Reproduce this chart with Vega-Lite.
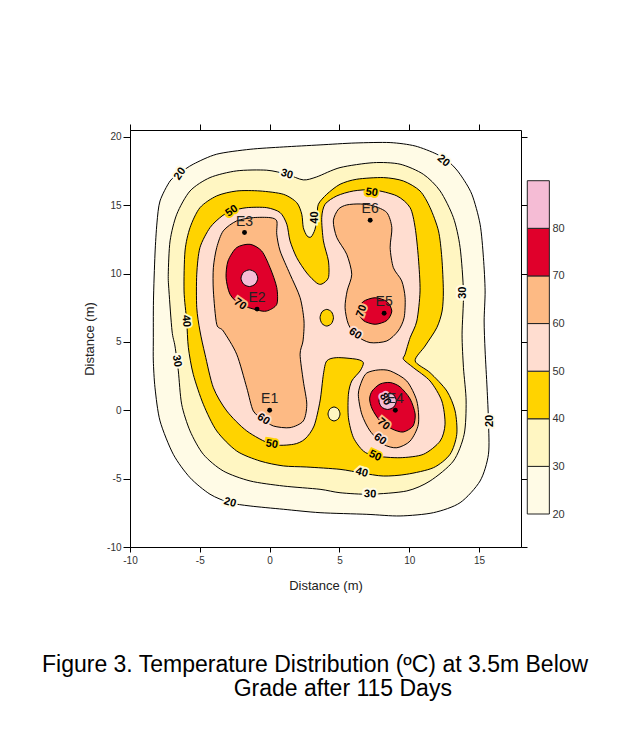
{
  "$schema": "https://vega.github.io/schema/vega-lite/v6.json",
  "autosize": {"type": "none"},
  "padding": {"left": 130, "top": 130, "right": 114, "bottom": 206},
  "width": 391,
  "height": 417,
  "background": "white",
  "config": {
    "view": {"stroke": "black", "strokeWidth": 1},
    "font": "Liberation Sans",
    "axis": {"labelFont": "Liberation Sans", "labelFontSize": 10, "labelColor": "#333", "domainColor": "black", "tickColor": "black", "grid": false, "labelFlush": false, "labelOverlap": false, "titleFont": "Liberation Sans", "titleFontWeight": "normal", "titleFontSize": 13, "titleColor": "#222"}
  },
  "title": {
    "text": ["Figure 3. Temperature Distribution (ºC) at 3.5m Below", "\u200b\u00a0\u00a0\u00a0\u00a0\u00a0\u00a0\u00a0\u00a0\u00a0\u00a0\u00a0\u00a0\u00a0\u00a0\u00a0\u00a0\u00a0\u00a0\u00a0\u00a0\u00a0\u00a0\u00a0\u00a0\u00a0\u00a0\u00a0\u00a0\u00a0\u00a0Grade after 115 Days"],
    "orient": "bottom", "anchor": "start", "align": "left", "frame": "group",
    "dx": -88, "offset": 62, "fontSize": 23, "font": "Liberation Sans", "fontWeight": "normal", "color": "black", "lineHeight": 24
  },
  "datasets": {
    "poly": [
      {"id":"a","lv":20,"o":0,"x":-8.33,"y":5.07},{"id":"a","lv":20,"o":1,"x":-8.32,"y":8.00},{"id":"a","lv":20,"o":2,"x":-8.21,"y":11.43},{"id":"a","lv":20,"o":3,"x":-8.07,"y":13.70},{"id":"a","lv":20,"o":4,"x":-7.85,"y":15.31},{"id":"a","lv":20,"o":5,"x":-7.13,"y":16.77},{"id":"a","lv":20,"o":6,"x":-6.42,"y":17.36},{"id":"a","lv":20,"o":7,"x":-5.47,"y":18.00},{"id":"a","lv":20,"o":8,"x":-3.79,"y":18.73},{"id":"a","lv":20,"o":9,"x":-1.40,"y":19.09},{"id":"a","lv":20,"o":10,"x":0.98,"y":19.26},{"id":"a","lv":20,"o":11,"x":3.61,"y":19.41},{"id":"a","lv":20,"o":12,"x":6.12,"y":19.55},{"id":"a","lv":20,"o":13,"x":8.63,"y":19.58},{"id":"a","lv":20,"o":14,"x":10.42,"y":19.33},{"id":"a","lv":20,"o":15,"x":11.97,"y":18.73},{"id":"a","lv":20,"o":16,"x":12.92,"y":18.09},{"id":"a","lv":20,"o":17,"x":13.64,"y":17.26},{"id":"a","lv":20,"o":18,"x":14.48,"y":15.80},{"id":"a","lv":20,"o":19,"x":15.07,"y":13.61},{"id":"a","lv":20,"o":20,"x":15.31,"y":11.16},{"id":"a","lv":20,"o":21,"x":15.43,"y":8.73},{"id":"a","lv":20,"o":22,"x":15.36,"y":6.53},{"id":"a","lv":20,"o":23,"x":15.43,"y":4.34},{"id":"a","lv":20,"o":24,"x":15.57,"y":1.63},{"id":"a","lv":20,"o":25,"x":15.67,"y":-0.78},{"id":"a","lv":20,"o":26,"x":15.67,"y":-3.22},{"id":"a","lv":20,"o":27,"x":15.07,"y":-5.17},{"id":"a","lv":20,"o":28,"x":13.64,"y":-6.76},{"id":"a","lv":20,"o":29,"x":11.73,"y":-7.49},{"id":"a","lv":20,"o":30,"x":9.34,"y":-7.73},{"id":"a","lv":20,"o":31,"x":6.96,"y":-7.61},{"id":"a","lv":20,"o":32,"x":3.61,"y":-7.49},{"id":"a","lv":20,"o":33,"x":0.98,"y":-7.24},{"id":"a","lv":20,"o":34,"x":-1.40,"y":-7.00},{"id":"a","lv":20,"o":35,"x":-2.84,"y":-6.76},{"id":"a","lv":20,"o":36,"x":-4.27,"y":-6.14},{"id":"a","lv":20,"o":37,"x":-5.70,"y":-4.93},{"id":"a","lv":20,"o":38,"x":-6.90,"y":-3.22},{"id":"a","lv":20,"o":39,"x":-7.85,"y":-0.78},{"id":"a","lv":20,"o":40,"x":-8.21,"y":1.65},{"id":"a","lv":20,"o":41,"x":-8.33,"y":3.61},
      {"id":"b","lv":30,"o":0,"x":-6.99,"y":5.80},{"id":"b","lv":30,"o":1,"x":-7.21,"y":8.73},{"id":"b","lv":30,"o":2,"x":-7.26,"y":9.95},{"id":"b","lv":30,"o":3,"x":-7.13,"y":12.39},{"id":"b","lv":30,"o":4,"x":-6.65,"y":14.34},{"id":"b","lv":30,"o":5,"x":-5.70,"y":16.04},{"id":"b","lv":30,"o":6,"x":-4.27,"y":17.02},{"id":"b","lv":30,"o":7,"x":-2.36,"y":17.51},{"id":"b","lv":30,"o":8,"x":-0.21,"y":17.56},{"id":"b","lv":30,"o":9,"x":1.23,"y":17.26},{"id":"b","lv":30,"o":10,"x":2.41,"y":16.85},{"id":"b","lv":30,"o":11,"x":3.37,"y":17.07},{"id":"b","lv":30,"o":12,"x":5.04,"y":17.75},{"id":"b","lv":30,"o":13,"x":7.43,"y":18.11},{"id":"b","lv":30,"o":14,"x":9.34,"y":18.00},{"id":"b","lv":30,"o":15,"x":11.01,"y":17.26},{"id":"b","lv":30,"o":16,"x":12.21,"y":16.04},{"id":"b","lv":30,"o":17,"x":13.16,"y":14.09},{"id":"b","lv":30,"o":18,"x":13.64,"y":11.90},{"id":"b","lv":30,"o":19,"x":13.88,"y":8.60},{"id":"b","lv":30,"o":20,"x":13.78,"y":5.56},{"id":"b","lv":30,"o":21,"x":13.88,"y":3.12},{"id":"b","lv":30,"o":22,"x":14.07,"y":0.68},{"id":"b","lv":30,"o":23,"x":13.93,"y":-1.76},{"id":"b","lv":30,"o":24,"x":13.16,"y":-3.71},{"id":"b","lv":30,"o":25,"x":11.49,"y":-5.17},{"id":"b","lv":30,"o":26,"x":9.82,"y":-5.90},{"id":"b","lv":30,"o":27,"x":7.19,"y":-6.14},{"id":"b","lv":30,"o":28,"x":5.04,"y":-6.03},{"id":"b","lv":30,"o":29,"x":3.61,"y":-5.78},{"id":"b","lv":30,"o":30,"x":0.98,"y":-5.54},{"id":"b","lv":30,"o":31,"x":-1.40,"y":-5.17},{"id":"b","lv":30,"o":32,"x":-3.32,"y":-4.44},{"id":"b","lv":30,"o":33,"x":-4.75,"y":-3.22},{"id":"b","lv":30,"o":34,"x":-5.70,"y":-1.51},{"id":"b","lv":30,"o":35,"x":-6.30,"y":0.44},{"id":"b","lv":30,"o":36,"x":-6.54,"y":2.88},{"id":"b","lv":30,"o":37,"x":-6.78,"y":4.70},
      {"id":"c","lv":40,"o":0,"x":-5.94,"y":6.53},{"id":"c","lv":40,"o":1,"x":-6.13,"y":8.73},{"id":"c","lv":40,"o":2,"x":-6.06,"y":11.65},{"id":"c","lv":40,"o":3,"x":-5.70,"y":13.36},{"id":"c","lv":40,"o":4,"x":-4.99,"y":14.82},{"id":"c","lv":40,"o":5,"x":-3.79,"y":15.68},{"id":"c","lv":40,"o":6,"x":-2.36,"y":16.04},{"id":"c","lv":40,"o":7,"x":-0.69,"y":16.04},{"id":"c","lv":40,"o":8,"x":0.98,"y":15.80},{"id":"c","lv":40,"o":9,"x":1.94,"y":15.19},{"id":"c","lv":40,"o":10,"x":2.30,"y":14.34},{"id":"c","lv":40,"o":11,"x":2.41,"y":13.36},{"id":"c","lv":40,"o":12,"x":2.68,"y":12.75},{"id":"c","lv":40,"o":13,"x":2.97,"y":12.68},{"id":"c","lv":40,"o":14,"x":3.25,"y":13.24},{"id":"c","lv":40,"o":15,"x":3.40,"y":14.21},{"id":"c","lv":40,"o":16,"x":3.49,"y":15.07},{"id":"c","lv":40,"o":17,"x":4.09,"y":15.80},{"id":"c","lv":40,"o":18,"x":5.04,"y":16.53},{"id":"c","lv":40,"o":19,"x":6.24,"y":16.90},{"id":"c","lv":40,"o":20,"x":8.15,"y":17.02},{"id":"c","lv":40,"o":21,"x":9.58,"y":16.77},{"id":"c","lv":40,"o":22,"x":10.77,"y":16.04},{"id":"c","lv":40,"o":23,"x":11.49,"y":14.82},{"id":"c","lv":40,"o":24,"x":12.09,"y":13.12},{"id":"c","lv":40,"o":25,"x":12.33,"y":11.16},{"id":"c","lv":40,"o":26,"x":12.44,"y":8.73},{"id":"c","lv":40,"o":27,"x":12.35,"y":7.26},{"id":"c","lv":40,"o":28,"x":11.97,"y":6.04},{"id":"c","lv":40,"o":29,"x":11.13,"y":4.70},{"id":"c","lv":40,"o":30,"x":10.42,"y":3.61},{"id":"c","lv":40,"o":31,"x":11.49,"y":2.75},{"id":"c","lv":40,"o":32,"x":12.69,"y":1.41},{"id":"c","lv":40,"o":33,"x":13.28,"y":-0.05},{"id":"c","lv":40,"o":34,"x":13.40,"y":-1.76},{"id":"c","lv":40,"o":35,"x":12.92,"y":-3.22},{"id":"c","lv":40,"o":36,"x":11.73,"y":-4.20},{"id":"c","lv":40,"o":37,"x":9.82,"y":-4.68},{"id":"c","lv":40,"o":38,"x":8.15,"y":-4.81},{"id":"c","lv":40,"o":39,"x":6.60,"y":-4.59},{"id":"c","lv":40,"o":40,"x":5.04,"y":-4.32},{"id":"c","lv":40,"o":41,"x":2.66,"y":-4.15},{"id":"c","lv":40,"o":42,"x":0.98,"y":-4.07},{"id":"c","lv":40,"o":43,"x":-0.69,"y":-3.71},{"id":"c","lv":40,"o":44,"x":-2.36,"y":-2.98},{"id":"c","lv":40,"o":45,"x":-3.79,"y":-1.51},{"id":"c","lv":40,"o":46,"x":-4.75,"y":0.44},{"id":"c","lv":40,"o":47,"x":-5.47,"y":2.63},{"id":"c","lv":40,"o":48,"x":-5.82,"y":4.58},
      {"id":"d","lv":30,"o":0,"x":5.04,"y":-0.27},{"id":"d","lv":30,"o":1,"x":4.91,"y":0.09},{"id":"d","lv":30,"o":2,"x":4.61,"y":0.24},{"id":"d","lv":30,"o":3,"x":4.31,"y":0.09},{"id":"d","lv":30,"o":4,"x":4.18,"y":-0.27},{"id":"d","lv":30,"o":5,"x":4.31,"y":-0.63},{"id":"d","lv":30,"o":6,"x":4.61,"y":-0.78},{"id":"d","lv":30,"o":7,"x":4.91,"y":-0.63},
      {"id":"e","lv":50,"o":0,"x":-5.22,"y":7.51},{"id":"e","lv":50,"o":1,"x":-5.22,"y":9.95},{"id":"e","lv":50,"o":2,"x":-4.99,"y":11.90},{"id":"e","lv":50,"o":3,"x":-4.27,"y":13.36},{"id":"e","lv":50,"o":4,"x":-3.41,"y":14.21},{"id":"e","lv":50,"o":5,"x":-2.71,"y":14.58},{"id":"e","lv":50,"o":6,"x":-1.64,"y":14.82},{"id":"e","lv":50,"o":7,"x":-0.21,"y":14.82},{"id":"e","lv":50,"o":8,"x":0.75,"y":14.46},{"id":"e","lv":50,"o":9,"x":1.23,"y":13.61},{"id":"e","lv":50,"o":10,"x":1.46,"y":12.39},{"id":"e","lv":50,"o":11,"x":1.94,"y":11.16},{"id":"e","lv":50,"o":12,"x":2.66,"y":10.04},{"id":"e","lv":50,"o":13,"x":3.37,"y":9.31},{"id":"e","lv":50,"o":14,"x":3.75,"y":9.24},{"id":"e","lv":50,"o":15,"x":4.21,"y":9.70},{"id":"e","lv":50,"o":16,"x":4.21,"y":10.92},{"id":"e","lv":50,"o":17,"x":3.85,"y":12.39},{"id":"e","lv":50,"o":18,"x":3.73,"y":14.09},{"id":"e","lv":50,"o":19,"x":3.97,"y":15.07},{"id":"e","lv":50,"o":20,"x":4.81,"y":15.68},{"id":"e","lv":50,"o":21,"x":6.00,"y":16.04},{"id":"e","lv":50,"o":22,"x":7.43,"y":16.12},{"id":"e","lv":50,"o":23,"x":9.11,"y":15.68},{"id":"e","lv":50,"o":24,"x":10.06,"y":14.82},{"id":"e","lv":50,"o":25,"x":10.42,"y":13.36},{"id":"e","lv":50,"o":26,"x":10.65,"y":11.16},{"id":"e","lv":50,"o":27,"x":10.77,"y":8.73},{"id":"e","lv":50,"o":28,"x":10.54,"y":6.53},{"id":"e","lv":50,"o":29,"x":10.06,"y":5.31},{"id":"e","lv":50,"o":30,"x":9.70,"y":4.10},{"id":"e","lv":50,"o":31,"x":9.58,"y":3.73},{"id":"e","lv":50,"o":32,"x":10.29,"y":3.12},{"id":"e","lv":50,"o":33,"x":11.49,"y":2.14},{"id":"e","lv":50,"o":34,"x":12.33,"y":0.68},{"id":"e","lv":50,"o":35,"x":12.56,"y":-1.02},{"id":"e","lv":50,"o":36,"x":12.21,"y":-2.25},{"id":"e","lv":50,"o":37,"x":11.01,"y":-3.22},{"id":"e","lv":50,"o":38,"x":9.34,"y":-3.47},{"id":"e","lv":50,"o":39,"x":7.55,"y":-3.34},{"id":"e","lv":50,"o":40,"x":6.71,"y":-2.98},{"id":"e","lv":50,"o":41,"x":6.00,"y":-2.00},{"id":"e","lv":50,"o":42,"x":5.64,"y":-0.54},{"id":"e","lv":50,"o":43,"x":5.64,"y":1.17},{"id":"e","lv":50,"o":44,"x":5.88,"y":2.14},{"id":"e","lv":50,"o":45,"x":6.48,"y":2.88},{"id":"e","lv":50,"o":46,"x":6.71,"y":3.48},{"id":"e","lv":50,"o":47,"x":6.24,"y":3.73},{"id":"e","lv":50,"o":48,"x":4.81,"y":3.85},{"id":"e","lv":50,"o":49,"x":4.09,"y":3.61},{"id":"e","lv":50,"o":50,"x":3.85,"y":2.63},{"id":"e","lv":50,"o":51,"x":3.61,"y":0.68},{"id":"e","lv":50,"o":52,"x":3.18,"y":-1.15},{"id":"e","lv":50,"o":53,"x":2.53,"y":-2.10},{"id":"e","lv":50,"o":54,"x":1.70,"y":-2.49},{"id":"e","lv":50,"o":55,"x":0.15,"y":-2.49},{"id":"e","lv":50,"o":56,"x":-1.64,"y":-1.51},{"id":"e","lv":50,"o":57,"x":-3.07,"y":-0.05},{"id":"e","lv":50,"o":58,"x":-4.03,"y":1.65},{"id":"e","lv":50,"o":59,"x":-4.63,"y":4.10},{"id":"e","lv":50,"o":60,"x":-4.99,"y":5.80},
      {"id":"f","lv":40,"o":0,"x":4.57,"y":6.77},{"id":"f","lv":40,"o":1,"x":4.43,"y":7.20},{"id":"f","lv":40,"o":2,"x":4.09,"y":7.38},{"id":"f","lv":40,"o":3,"x":3.75,"y":7.20},{"id":"f","lv":40,"o":4,"x":3.61,"y":6.77},{"id":"f","lv":40,"o":5,"x":3.75,"y":6.34},{"id":"f","lv":40,"o":6,"x":4.09,"y":6.16},{"id":"f","lv":40,"o":7,"x":4.43,"y":6.34},
      {"id":"g","lv":60,"o":0,"x":-3.79,"y":6.29},{"id":"g","lv":60,"o":1,"x":-4.03,"y":8.73},{"id":"g","lv":60,"o":2,"x":-4.03,"y":10.43},{"id":"g","lv":60,"o":3,"x":-3.79,"y":11.90},{"id":"g","lv":60,"o":4,"x":-3.32,"y":13.12},{"id":"g","lv":60,"o":5,"x":-2.36,"y":13.85},{"id":"g","lv":60,"o":6,"x":-1.17,"y":14.09},{"id":"g","lv":60,"o":7,"x":0.03,"y":14.09},{"id":"g","lv":60,"o":8,"x":0.51,"y":13.85},{"id":"g","lv":60,"o":9,"x":0.51,"y":12.88},{"id":"g","lv":60,"o":10,"x":0.75,"y":11.65},{"id":"g","lv":60,"o":11,"x":1.46,"y":9.95},{"id":"g","lv":60,"o":12,"x":2.18,"y":8.24},{"id":"g","lv":60,"o":13,"x":2.46,"y":6.53},{"id":"g","lv":60,"o":14,"x":2.39,"y":5.07},{"id":"g","lv":60,"o":15,"x":2.18,"y":4.10},{"id":"g","lv":60,"o":16,"x":2.41,"y":2.14},{"id":"g","lv":60,"o":17,"x":2.66,"y":0.44},{"id":"g","lv":60,"o":18,"x":2.41,"y":-0.78},{"id":"g","lv":60,"o":19,"x":1.46,"y":-1.27},{"id":"g","lv":60,"o":20,"x":0.27,"y":-1.15},{"id":"g","lv":60,"o":21,"x":-0.45,"y":-0.66},{"id":"g","lv":60,"o":22,"x":-1.17,"y":-0.05},{"id":"g","lv":60,"o":23,"x":-1.64,"y":1.65},{"id":"g","lv":60,"o":24,"x":-2.36,"y":4.10},{"id":"g","lv":60,"o":25,"x":-3.32,"y":5.80},
      {"id":"h","lv":60,"o":0,"x":4.92,"y":14.70},{"id":"h","lv":60,"o":1,"x":5.52,"y":15.02},{"id":"h","lv":60,"o":2,"x":6.48,"y":15.09},{"id":"h","lv":60,"o":3,"x":7.43,"y":14.95},{"id":"h","lv":60,"o":4,"x":8.39,"y":14.46},{"id":"h","lv":60,"o":5,"x":8.75,"y":13.36},{"id":"h","lv":60,"o":6,"x":8.63,"y":11.90},{"id":"h","lv":60,"o":7,"x":8.86,"y":10.43},{"id":"h","lv":60,"o":8,"x":9.46,"y":9.46},{"id":"h","lv":60,"o":9,"x":9.70,"y":8.24},{"id":"h","lv":60,"o":10,"x":9.63,"y":6.77},{"id":"h","lv":60,"o":11,"x":9.20,"y":5.80},{"id":"h","lv":60,"o":12,"x":8.39,"y":5.07},{"id":"h","lv":60,"o":13,"x":7.19,"y":4.95},{"id":"h","lv":60,"o":14,"x":6.24,"y":5.44},{"id":"h","lv":60,"o":15,"x":5.64,"y":6.29},{"id":"h","lv":60,"o":16,"x":5.40,"y":7.51},{"id":"h","lv":60,"o":17,"x":5.55,"y":8.73},{"id":"h","lv":60,"o":18,"x":5.88,"y":9.95},{"id":"h","lv":60,"o":19,"x":5.52,"y":11.41},{"id":"h","lv":60,"o":20,"x":4.81,"y":12.63},{"id":"h","lv":60,"o":21,"x":4.56,"y":13.85},
      {"id":"i","lv":60,"o":0,"x":6.60,"y":2.14},{"id":"i","lv":60,"o":1,"x":6.96,"y":2.73},{"id":"i","lv":60,"o":2,"x":7.77,"y":2.95},{"id":"i","lv":60,"o":3,"x":8.63,"y":2.88},{"id":"i","lv":60,"o":4,"x":9.82,"y":2.14},{"id":"i","lv":60,"o":5,"x":10.54,"y":0.68},{"id":"i","lv":60,"o":6,"x":10.65,"y":-1.02},{"id":"i","lv":60,"o":7,"x":10.06,"y":-2.25},{"id":"i","lv":60,"o":8,"x":9.11,"y":-2.74},{"id":"i","lv":60,"o":9,"x":8.15,"y":-2.49},{"id":"i","lv":60,"o":10,"x":7.19,"y":-1.51},{"id":"i","lv":60,"o":11,"x":6.60,"y":-0.29},{"id":"i","lv":60,"o":12,"x":6.35,"y":1.17},
      {"id":"j","lv":70,"o":0,"x":-3.12,"y":9.70},{"id":"j","lv":70,"o":1,"x":-2.98,"y":10.92},{"id":"j","lv":70,"o":2,"x":-2.36,"y":11.90},{"id":"j","lv":70,"o":3,"x":-1.40,"y":12.14},{"id":"j","lv":70,"o":4,"x":-0.57,"y":11.65},{"id":"j","lv":70,"o":5,"x":0.03,"y":10.43},{"id":"j","lv":70,"o":6,"x":0.51,"y":8.97},{"id":"j","lv":70,"o":7,"x":0.51,"y":7.75},{"id":"j","lv":70,"o":8,"x":-0.21,"y":7.26},{"id":"j","lv":70,"o":9,"x":-0.92,"y":7.34},{"id":"j","lv":70,"o":10,"x":-2.12,"y":7.75},{"id":"j","lv":70,"o":11,"x":-2.84,"y":8.49},
      {"id":"k","lv":70,"o":0,"x":8.75,"y":7.26},{"id":"k","lv":70,"o":1,"x":8.40,"y":7.95},{"id":"k","lv":70,"o":2,"x":7.55,"y":8.23},{"id":"k","lv":70,"o":3,"x":6.70,"y":7.95},{"id":"k","lv":70,"o":4,"x":6.35,"y":7.26},{"id":"k","lv":70,"o":5,"x":6.70,"y":6.57},{"id":"k","lv":70,"o":6,"x":7.55,"y":6.29},{"id":"k","lv":70,"o":7,"x":8.40,"y":6.57},
      {"id":"l","lv":70,"o":0,"x":7.34,"y":1.41},{"id":"l","lv":70,"o":1,"x":7.91,"y":1.92},{"id":"l","lv":70,"o":2,"x":8.63,"y":2.03},{"id":"l","lv":70,"o":3,"x":9.34,"y":1.71},{"id":"l","lv":70,"o":4,"x":10.06,"y":0.83},{"id":"l","lv":70,"o":5,"x":10.42,"y":-0.27},{"id":"l","lv":70,"o":6,"x":10.27,"y":-1.15},{"id":"l","lv":70,"o":7,"x":9.56,"y":-1.59},{"id":"l","lv":70,"o":8,"x":8.77,"y":-1.37},{"id":"l","lv":70,"o":9,"x":7.91,"y":-0.78},{"id":"l","lv":70,"o":10,"x":7.34,"y":0.10},{"id":"l","lv":70,"o":11,"x":7.16,"y":0.83},
      {"id":"m","lv":80,"o":0,"x":-0.85,"y":9.66},{"id":"m","lv":80,"o":1,"x":-1.03,"y":10.09},{"id":"m","lv":80,"o":2,"x":-1.45,"y":10.27},{"id":"m","lv":80,"o":3,"x":-1.87,"y":10.09},{"id":"m","lv":80,"o":4,"x":-2.05,"y":9.66},{"id":"m","lv":80,"o":5,"x":-1.87,"y":9.23},{"id":"m","lv":80,"o":6,"x":-1.45,"y":9.05},{"id":"m","lv":80,"o":7,"x":-1.03,"y":9.23},
      {"id":"n","lv":80,"o":0,"x":9.07,"y":0.68},{"id":"n","lv":80,"o":1,"x":8.89,"y":1.12},{"id":"n","lv":80,"o":2,"x":8.45,"y":1.30},{"id":"n","lv":80,"o":3,"x":8.01,"y":1.12},{"id":"n","lv":80,"o":4,"x":7.83,"y":0.68},{"id":"n","lv":80,"o":5,"x":8.01,"y":0.24},{"id":"n","lv":80,"o":6,"x":8.45,"y":0.06},{"id":"n","lv":80,"o":7,"x":8.89,"y":0.24}
    ],
    "labels": [
      {"t":"20","x":-6.42,"y":17.29,"a":-55,"band":20},
      {"t":"30","x":1.23,"y":17.26,"a":15,"band":20},
      {"t":"20","x":12.44,"y":18.24,"a":40,"band":20},
      {"t":"50","x":-2.71,"y":14.58,"a":-35,"band":40},
      {"t":"40","x":3.25,"y":14.10,"a":-90,"band":30},
      {"t":"50","x":7.31,"y":15.92,"a":8,"band":40},
      {"t":"30","x":13.88,"y":8.60,"a":-90,"band":20},
      {"t":"40","x":-5.99,"y":6.53,"a":85,"band":30},
      {"t":"30","x":-6.65,"y":3.61,"a":80,"band":20},
      {"t":"70","x":-2.12,"y":7.75,"a":35,"band":60},
      {"t":"70","x":6.60,"y":7.26,"a":-70,"band":60},
      {"t":"60","x":6.12,"y":5.60,"a":35,"band":50},
      {"t":"60","x":-0.45,"y":-0.66,"a":35,"band":50},
      {"t":"50","x":0.15,"y":-2.49,"a":10,"band":40},
      {"t":"20","x":-2.84,"y":-6.76,"a":15,"band":20},
      {"t":"20","x":15.79,"y":-0.78,"a":-90,"band":20},
      {"t":"80","x":8.27,"y":0.80,"a":60,"band":80},
      {"t":"70","x":8.15,"y":-1.02,"a":40,"band":60},
      {"t":"60","x":7.91,"y":-2.12,"a":35,"band":50},
      {"t":"50","x":7.55,"y":-3.34,"a":25,"band":40},
      {"t":"40","x":6.60,"y":-4.56,"a":15,"band":30},
      {"t":"30","x":7.19,"y":-6.14,"a":3,"band":20}
    ],
    "wells": [
      {"name":"E1","x":0.0,"y":0.0},
      {"name":"E2","x":-0.9,"y":7.4},
      {"name":"E3","x":-1.8,"y":13.0},
      {"name":"E4","x":9.0,"y":0.0},
      {"name":"E5","x":8.2,"y":7.1},
      {"name":"E6","x":7.2,"y":13.9}
    ],
    "legend": [
      {"lv":20,"lo":20,"hi":30},{"lv":30,"lo":30,"hi":40},{"lv":40,"lo":40,"hi":50},{"lv":50,"lo":50,"hi":60},{"lv":60,"lo":60,"hi":70},{"lv":70,"lo":70,"hi":80},{"lv":80,"lo":80,"hi":90}
    ]
  },
  "layer": [
    {
      "encoding": {
        "x": {"field": "x", "type": "quantitative", "scale": {"domain": [-10, 18], "nice": false, "zero": false},
              "axis": {"orient": "bottom", "values": [-10, -5, 0, 5, 10, 15], "labelExpr": "toString(datum.value)", "title": "Distance (m)", "tickSize": 5, "labelPadding": 3, "titlePadding": 14}},
        "y": {"field": "y", "type": "quantitative", "scale": {"domain": [-10, 20.5], "nice": false, "zero": false},
              "axis": {"orient": "left", "values": [-10, -5, 0, 5, 10, 15, 20], "labelExpr": "toString(datum.value)", "title": "Distance (m)", "tickSize": 7, "labelPadding": 2, "titlePadding": 10}}
      },
      "layer": [
        {
          "data": {"name": "poly"},
          "mark": {"type": "line", "interpolate": "cardinal-closed", "tension": 0.2, "stroke": "black", "strokeWidth": 1, "strokeJoin": "round"},
          "encoding": {
            "detail": {"field": "id"},
            "order": {"field": "o", "type": "quantitative"},
            "fill": {"field": "lv", "type": "ordinal", "scale": {"domain": [20, 30, 40, 50, 60, 70, 80], "range": ["#FFFBE6", "#FFF6C2", "#FFD300", "#FFDDD0", "#FDBA84", "#E0002B", "#F5BCD5"]}, "legend": null}
          }
        },
        {
          "data": {"name": "labels"},
          "mark": {"type": "text", "font": "Liberation Sans", "fontSize": 11, "fontWeight": "bold", "strokeWidth": 4, "align": "center", "baseline": "middle"},
          "encoding": {
            "text": {"field": "t"},
            "angle": {"field": "a", "type": "quantitative", "scale": null},
            "fill": {"field": "band", "type": "ordinal", "legend": null},
            "stroke": {"field": "band", "type": "ordinal", "scale": {"domain": [20, 30, 40, 50, 60, 70, 80], "range": ["#FFFBE6", "#FFF6C2", "#FFD300", "#FFDDD0", "#FDBA84", "#E0002B", "#F5BCD5"]}, "legend": null}
          }
        },
        {
          "data": {"name": "labels"},
          "mark": {"type": "text", "font": "Liberation Sans", "fontSize": 11, "fontWeight": "bold", "fill": "black", "align": "center", "baseline": "middle"},
          "encoding": {
            "text": {"field": "t"},
            "angle": {"field": "a", "type": "quantitative", "scale": null}
          }
        },
        {
          "data": {"name": "wells"},
          "mark": {"type": "text", "font": "Liberation Sans", "fontSize": 14, "fill": "#222", "align": "center", "baseline": "bottom", "dy": -4},
          "encoding": {"text": {"field": "name"}}
        }
      ]
    },
    {
      "data": {"name": "wells"},
      "mark": {"type": "circle", "size": 24, "fill": "black", "opacity": 1},
      "encoding": {
        "x": {"field": "x", "type": "quantitative", "scale": {"domain": [-10, 18], "nice": false, "zero": false},
              "axis": {"orient": "top", "values": [-10, -5, 0, 5, 10, 15], "labels": false, "title": null, "tickSize": 6, "domain": false}},
        "y": {"field": "y", "type": "quantitative", "scale": {"domain": [-10, 20.5], "nice": false, "zero": false},
              "axis": {"orient": "right", "values": [-10, -5, 0, 5, 10, 15, 20], "labels": false, "title": null, "tickSize": 6, "domain": false}}
      }
    },
    {
      "data": {"name": "legend"},
      "mark": {"type": "rect", "stroke": "#222", "strokeWidth": 1},
      "encoding": {
        "x": {"datum": 18.45, "type": "quantitative", "scale": {"domain": [-10, 18], "nice": false, "zero": false}, "axis": null},
        "x2": {"datum": 20.03},
        "y": {"field": "lo", "type": "quantitative", "scale": {"domain": [13.07, 100.65], "nice": false, "zero": false},
              "axis": {"orient": "right", "offset": 28, "values": [20, 30, 40, 50, 60, 70, 80], "domain": false, "ticks": false, "labelPadding": 3, "title": null, "labelFontSize": 11}},
        "y2": {"field": "hi"},
        "fill": {"field": "lv", "type": "ordinal", "legend": null}
      }
    }
  ],
  "resolve": {"scale": {"y": "independent"}, "axis": {"x": "independent", "y": "independent"}}
}
